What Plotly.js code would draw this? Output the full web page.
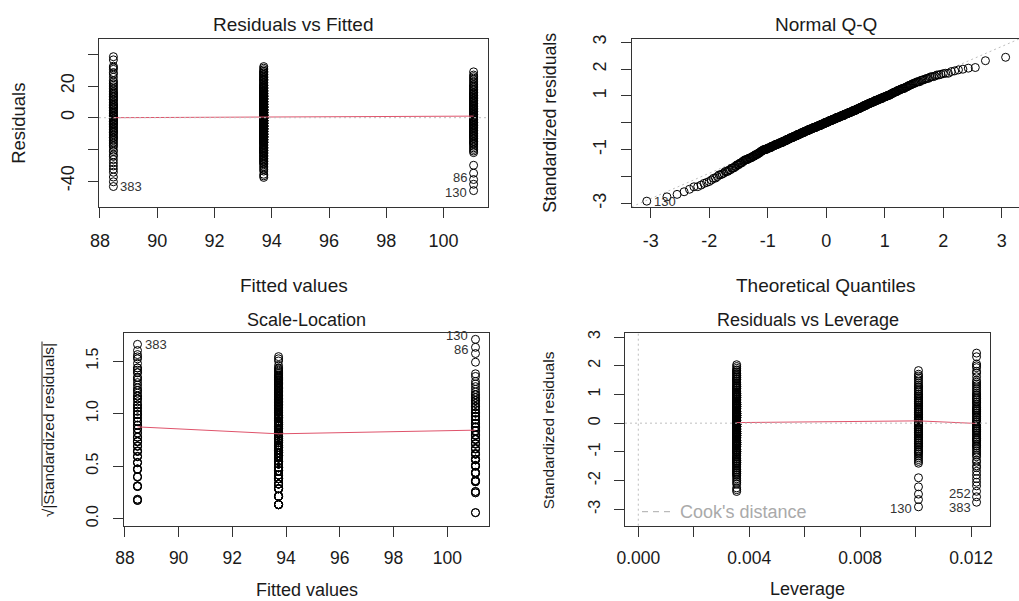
<!DOCTYPE html>
<html><head><meta charset="utf-8">
<script src="https://cdn.plot.ly/plotly-3.0.1.min.js"></script>
<style>html,body{margin:0;padding:0;background:#fff}#chart{width:1019px;height:601px}</style>
</head><body><div id="chart"></div>
<script>
// ---------------- data ----------------
// fitted value of each group (A, B, C)
const fittedValues = [88.47, 93.72, 101.05];
// integer responses of each group, as value / count pairs
const groupA_y = [45,48,51,54,56,58,60,62,64,65,67,68,70,71,72,73,74,75,76,77,78,79,80,81,82,83,84,85,86,87,88,89,90,91,92,93,94,95,96,97,98,99,100,101,102,103,104,105,106,107,108,109,110,111,112,114,116,117,119,120,121,125,127];
const groupA_n = [1,1,1,1,1,1,1,1,1,1,1,1,1,1,1,1,1,1,2,1,1,2,2,1,2,1,2,2,2,2,2,2,2,1,2,1,2,2,2,2,1,1,2,1,2,1,2,1,1,1,1,1,1,1,1,1,1,1,1,1,1,1,1];
const groupB_y = [56,57,58,60,61,62,63,64,65,66,67,68,69,70,71,72,73,74,75,76,77,78,79,80,81,82,83,84,85,86,87,88,89,90,91,92,93,94,95,96,97,98,99,100,101,102,103,104,105,106,107,108,109,110,111,112,113,114,115,116,117,118,119,120,121,122,123,124,125,126];
const groupB_n = [1,1,1,1,1,1,1,1,2,2,2,2,2,2,2,3,3,3,3,2,2,5,5,5,5,6,6,5,6,7,7,7,7,8,8,8,8,8,8,8,8,8,7,7,7,6,6,6,5,5,5,5,4,4,3,3,3,3,2,2,2,3,2,2,2,2,2,1,1,1];
const groupC_y = [55,59,62,66,71,79,80,81,82,83,84,85,86,87,88,89,90,91,92,93,94,95,96,97,98,99,100,101,102,103,104,105,106,107,108,109,110,111,112,113,114,115,116,117,118,119,120,121,122,123,124,125,126,127,128,130];
const groupC_n = [1,1,1,1,1,1,1,1,1,1,1,2,2,1,2,2,2,2,2,2,2,2,3,2,3,3,2,2,2,3,3,3,3,3,2,2,2,2,2,3,2,2,2,2,1,2,1,2,1,1,1,1,1,1,1,1];
const residualSE = 15.89;
// red smoother values at each group (A, B, C)
const smoothResidFitted = [0.0, 0.4, 1.0];
const smoothScaleLoc = [0.873, 0.807, 0.842];
const smoothLeverage = [-0.01, 0.02, 0.08];
// labelled observations: id, group index, response value
const labelIds = ['130', '86', '383', '252'];
const labelGroups = [2, 2, 0, 0];
const labelValues = [55, 59, 45, 48];
// ticks
const fittedTicks = [88, 90, 92, 94, 96, 98, 100];
const residTicks = [-40, -20, 0, 20, 40];
const residTickText = ['-40', '', '0', '20', ''];
const qqXTicks = [-3, -2, -1, 0, 1, 2, 3];
const qqYTicks = [-3, -2, -1, 0, 1, 2, 3];
const qqYTickText = ['-3', '', '-1', '', '1', '2', '3'];
const scaleTicks = [0, 0.5, 1.0, 1.5];
const scaleTickText = ['0.0', '0.5', '1.0', '1.5'];
const levXTicks = [0, 0.002, 0.004, 0.006, 0.008, 0.010, 0.012];
const levXTickText = ['0.000', '', '0.004', '', '0.008', '', '0.012'];
const levYTicks = [-3, -2, -1, 0, 1, 2, 3];

// ---------------- derived ----------------
function expand(v, c) { const o = []; v.forEach((x, i) => { for (let k = 0; k < c[i]; k++) o.push(x); }); return o; }
const groupsY = [expand(groupA_y, groupA_n), expand(groupB_y, groupB_n), expand(groupC_y, groupC_n)];
const leverage = groupsY.map(g => 1 / g.length);
const fx = [], res = [], std = [], sq = [], hx = [];
groupsY.forEach((g, gi) => {
  g.forEach(y => {
    const r = y - fittedValues[gi];
    const s = r / (residualSE * Math.sqrt(1 - leverage[gi]));
    fx.push(fittedValues[gi]); res.push(r); std.push(s); sq.push(Math.sqrt(Math.abs(s))); hx.push(leverage[gi]);
  });
});
function qnorm(p) {
  const a = [-3.969683028665376e+01, 2.209460984245205e+02, -2.759285104469687e+02, 1.383577518672690e+02, -3.066479806614716e+01, 2.506628277459239e+00];
  const b = [-5.447609879822406e+01, 1.615858368580409e+02, -1.556989798598866e+02, 6.680131188771972e+01, -1.328068155288572e+01];
  const c = [-7.784894002430293e-03, -3.223964580411365e-01, -2.400758277161838e+00, -2.549732539343734e+00, 4.374664141464968e+00, 2.938163982698783e+00];
  const d = [7.784695709041462e-03, 3.224671290700398e-01, 2.445134137142996e+00, 3.754408661907416e+00];
  const pl = 0.02425;
  let q, r;
  if (p < pl) { q = Math.sqrt(-2 * Math.log(p)); return (((((c[0]*q+c[1])*q+c[2])*q+c[3])*q+c[4])*q+c[5]) / ((((d[0]*q+d[1])*q+d[2])*q+d[3])*q+1); }
  if (p > 1 - pl) { q = Math.sqrt(-2 * Math.log(1 - p)); return -(((((c[0]*q+c[1])*q+c[2])*q+c[3])*q+c[4])*q+c[5]) / ((((d[0]*q+d[1])*q+d[2])*q+d[3])*q+1); }
  q = p - 0.5; r = q * q;
  return (((((a[0]*r+a[1])*r+a[2])*r+a[3])*r+a[4])*r+a[5])*q / (((((b[0]*r+b[1])*r+b[2])*r+b[3])*r+b[4])*r+1);
}
const n = std.length;
const qqY = std.slice().sort((u, v) => u - v);
const qqX = qqY.map((_, i) => qnorm((i + 0.5) / n));
function quant(arr, p) { const h = (arr.length - 1) * p, lo = Math.floor(h); return arr[lo] + (h - lo) * (arr[lo + 1] - arr[lo]); }
const y1 = quant(qqY, 0.25), y3 = quant(qqY, 0.75), x1 = qnorm(0.25), x3 = qnorm(0.75);
const qqSlope = (y3 - y1) / (x3 - x1), qqInt = y1 - qqSlope * x1;

// ---------------- layout ----------------
const W = 1019, H = 601;
const px = v => v / W, py = v => 1 - v / H;
const FONT = 'Liberation Sans, Arial, sans-serif';
const red = '#DF536B', grey = '#bebebe';
const marker = {symbol: 'circle-open', size: 8, color: '#000', line: {width: 1, color: '#000'}};
function ax(extra) {
  return Object.assign({showgrid: false, zeroline: false, showline: true, mirror: true, linecolor: '#333', linewidth: 1,
    ticks: 'outside', ticklen: 10, tickwidth: 1, tickcolor: '#333', tickmode: 'array',
    tickfont: {family: FONT, size: 18, color: '#1a1a1a'}, fixedrange: true}, extra);
}
const lev4x = leverage.map((h, i) => ({h, s: smoothLeverage[i]})).sort((a, b) => a.h - b.h);
const qqR = [-3.325, 3.296];

const traces = [
  {x: fx, y: res, xaxis: 'x', yaxis: 'y', mode: 'markers', type: 'scatter', marker},
  {x: fittedValues, y: smoothResidFitted, xaxis: 'x', yaxis: 'y', mode: 'lines', type: 'scatter', line: {color: red, width: 1}},
  {x: qqR, y: qqR.map(v => qqInt + qqSlope * v), xaxis: 'x2', yaxis: 'y2', mode: 'lines', type: 'scatter', line: {color: grey, width: 1, dash: '2px,3px'}},
  {x: qqX, y: qqY, xaxis: 'x2', yaxis: 'y2', mode: 'markers', type: 'scatter', marker},
  {x: fx, y: sq, xaxis: 'x3', yaxis: 'y3', mode: 'markers', type: 'scatter', marker},
  {x: fittedValues, y: smoothScaleLoc, xaxis: 'x3', yaxis: 'y3', mode: 'lines', type: 'scatter', line: {color: red, width: 1}},
  {x: hx, y: std, xaxis: 'x4', yaxis: 'y4', mode: 'markers', type: 'scatter', marker},
  {x: lev4x.map(o => o.h), y: lev4x.map(o => o.s), xaxis: 'x4', yaxis: 'y4', mode: 'lines', type: 'scatter', line: {color: red, width: 1}}
];

const dot = {color: grey, width: 1, dash: '2px,3px'};
const shapes = [
  {type: 'line', xref: 'x domain', yref: 'y', x0: 0, x1: 1, y0: 0, y1: 0, line: dot},
  {type: 'line', xref: 'x4 domain', yref: 'y4', x0: 0, x1: 1, y0: 0, y1: 0, line: dot},
  {type: 'line', xref: 'x4', yref: 'y4 domain', x0: 0, x1: 0, y0: 0, y1: 1, line: dot},
  {type: 'line', xref: 'paper', yref: 'paper', x0: px(642), x1: px(673), y0: py(511.7), y1: py(511.7), line: {color: '#aaa', width: 1, dash: '6px,5px'}},
  {type: 'line', xref: 'paper', yref: 'paper', x0: px(42), x1: px(42), y0: py(506), y1: py(341.5), line: {color: '#222', width: 1}}
];

function txt(text, x, y, size, extra) {
  return Object.assign({text, x: px(x), y: py(y), xref: 'paper', yref: 'paper', showarrow: false, xanchor: 'center', yanchor: 'middle',
    font: {family: FONT, size, color: '#1a1a1a'}}, extra || {});
}
const annotations = [
  txt('Residuals vs Fitted', 293.5, 24.5, 19),
  txt('Normal Q-Q', 826, 24.5, 19),
  txt('Scale-Location', 306.5, 320, 18),
  txt('Residuals vs Leverage', 807.5, 320, 18),
  txt('Fitted values', 293.5, 285, 19),
  txt('Theoretical Quantiles', 826, 285.5, 19),
  txt('Fitted values', 306.5, 590, 18),
  txt('Leverage', 807.5, 589, 18),
  txt('Residuals', 18.3, 123.5, 18.5, {textangle: -90}),
  txt('Standardized residuals', 550.5, 123.3, 17.7, {textangle: -90}),
  txt('√|Standardized residuals|', 48.3, 430, 15.5, {textangle: -90}),
  txt('Standardized residuals', 548.3, 430, 15.5, {textangle: -90}),
  txt("Cook's distance", 678, 511.7, 18, {xanchor: 'left', font: {family: FONT, size: 18, color: '#aaa'}})
];
// point labels (vertical nudges in px keep neighbouring ids legible)
const labFont = {family: FONT, size: 13, color: '#333'};
const p1Shift = {'130': -1.5, '86': 6.5, '383': 0};
const p3Shift = {'130': 4, '86': -2.5, '383': 0};
const p4Shift = {'130': -2, '252': 3.5, '383': -5.5};
labelIds.forEach((id, k) => {
  const g = labelGroups[k], y = labelValues[k];
  const r = y - fittedValues[g];
  const s = r / (residualSE * Math.sqrt(1 - leverage[g]));
  const right = g === 0;
  if (id in p1Shift) annotations.push({text: id, x: fittedValues[g], y: r, xref: 'x', yref: 'y', showarrow: false, xanchor: right ? 'left' : 'right', yanchor: 'middle', xshift: right ? 6 : -6, yshift: p1Shift[id], borderpad: 0, font: labFont});
  if (id in p3Shift) annotations.push({text: id, x: fittedValues[g], y: Math.sqrt(Math.abs(s)), xref: 'x3', yref: 'y3', showarrow: false, xanchor: right ? 'left' : 'right', yanchor: 'middle', xshift: right ? 6 : -6, yshift: p3Shift[id], borderpad: 0, font: labFont});
  if (id in p4Shift) annotations.push({text: id, x: leverage[g], y: s, xref: 'x4', yref: 'y4', showarrow: false, xanchor: 'right', yanchor: 'middle', xshift: -5, yshift: p4Shift[id], borderpad: 0, font: labFont});
  if (id === '130') annotations.push({text: id, x: qqX[0], y: qqY[0], xref: 'x2', yref: 'y2', showarrow: false, xanchor: 'left', yanchor: 'middle', xshift: 6, borderpad: 0, font: labFont});
});

const xf = {family: FONT, size: 17.5, color: '#1a1a1a'};
const yf = {family: FONT, size: 16, color: '#1a1a1a'};
const layout = {
  width: W, height: H, margin: {l: 0, r: 0, t: 0, b: 0}, showlegend: false,
  paper_bgcolor: '#fff', plot_bgcolor: '#fff',
  xaxis: ax({domain: [px(99), px(488)], range: [87.967, 101.553], anchor: 'y', tickvals: fittedTicks, ticktext: fittedTicks.map(String), ticklabelstandoff: 7}),
  yaxis: ax({domain: [py(207), py(39)], range: [-56.4, 49.7], anchor: 'x', tickvals: residTicks, ticktext: residTickText, tickangle: -90, ticklabelstandoff: 7}),
  xaxis2: ax({domain: [px(631.7), 1], range: qqR, anchor: 'y2', tickvals: qqXTicks, ticktext: qqXTicks.map(String), ticklabelstandoff: 7}),
  yaxis2: ax({domain: [py(207), py(39)], range: [-3.13, 3.12], anchor: 'x2', mirror: false, tickvals: qqYTicks, ticktext: qqYTickText, tickangle: -90, ticklabelstandoff: 8}),
  xaxis3: ax({domain: [px(124), px(489)], range: [87.967, 101.553], anchor: 'y3', tickvals: fittedTicks, ticktext: fittedTicks.map(String), tickfont: xf, ticklabelstandoff: 6}),
  yaxis3: ax({domain: [py(525.7), py(332.7)], range: [-0.068, 1.77], anchor: 'x3', tickvals: scaleTicks, ticktext: scaleTickText, tickangle: -90, tickfont: yf, ticklabelstandoff: 9}),
  xaxis4: ax({domain: [px(625), px(990)], range: [-0.00048, 0.01268], anchor: 'y4', tickvals: levXTicks, ticktext: levXTickText, tickfont: xf, ticklabelstandoff: 6}),
  yaxis4: ax({domain: [py(525.7), py(332.7)], range: [-3.57, 3.15], anchor: 'x4', tickvals: levYTicks, ticktext: levYTicks.map(String), tickangle: -90, tickfont: yf, ticklabelstandoff: 8}),
  shapes, annotations
};
Plotly.newPlot('chart', traces, layout, {staticPlot: true, displayModeBar: false});
</script></body></html>
